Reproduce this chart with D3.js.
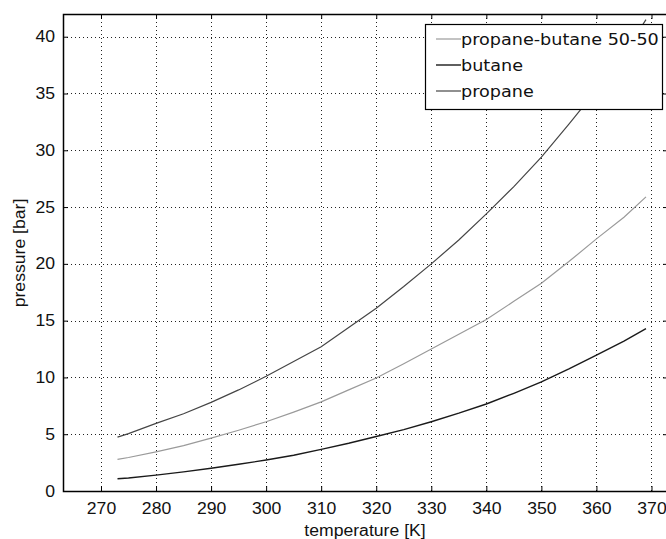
<!DOCTYPE html>
<html>
<head>
<meta charset="utf-8">
<script src="https://cdn.jsdelivr.net/npm/d3@7"></script>
<style>
  body { margin: 0; background: #fff; }
  svg { display: block; }
</style>
</head>
<body>
<div class="canvas"></div>
<script>
// Data
const temperatures = [273, 275, 280, 285, 290, 295, 300, 305, 310, 315, 320, 325, 330, 335, 340, 345, 350, 355, 360, 365, 369]
const propane = [4.75, 5.05, 5.95, 6.8, 7.8, 8.9, 10.1, 11.4, 12.7, 14.4, 16.1, 18.0, 20.0, 22.1, 24.4, 26.8, 29.4, 32.3, 35.3, 38.5, 41.5]
const mix5050 = [2.79, 2.95, 3.45, 4.0, 4.65, 5.35, 6.1, 6.95, 7.85, 8.9, 9.95, 11.2, 12.5, 13.8, 15.1, 16.7, 18.3, 20.2, 22.2, 24.1, 25.9]
const butane = [1.08, 1.15, 1.4, 1.68, 2.0, 2.35, 2.73, 3.15, 3.67, 4.2, 4.8, 5.4, 6.1, 6.85, 7.66, 8.6, 9.6, 10.75, 11.97, 13.2, 14.3]
const xTicks = [270, 280, 290, 300, 310, 320, 330, 340, 350, 360, 370]
const yTicks = [0, 5, 10, 15, 20, 25, 30, 35, 40]

const series = [
  { name: 'propane-butane 50-50', values: mix5050, color: '#9a9a9a', width: 1.2 },
  { name: 'butane', values: butane, color: '#1a1a1a', width: 1.4 },
  { name: 'propane', values: propane, color: '#454545', width: 1.2 }
]

const dims = { width: 666, height: 539 }
const plot = { left: 63, top: 14, right: 668, bottom: 491 }

const svg = d3.select('.canvas')
  .append('svg')
    .attr('width', dims.width)
    .attr('height', dims.height)

const x = d3.scaleLinear().domain([263.1, 373]).range([plot.left, plot.right])
const y = d3.scaleLinear().domain([0, 42]).range([plot.bottom, plot.top])

// stretch text a bit wider, like the original
const widen = function() {
  const w = this.getComputedTextLength()
  d3.select(this).attr('textLength', w * 1.1).attr('lengthAdjust', 'spacingAndGlyphs')
}

svg.append('defs').append('clipPath').attr('id', 'clip')
  .append('rect')
    .attr('x', plot.left).attr('y', plot.top)
    .attr('width', plot.right - plot.left).attr('height', plot.bottom - plot.top)

// Grid
const grid = svg.append('g')
  .attr('stroke', '#222')
  .attr('stroke-width', 1)
  .attr('stroke-dasharray', '1,3')

grid.selectAll('line.gx')
  .data(xTicks)
  .enter().append('line')
    .attr('class', 'gx')
    .attr('x1', d => Math.round(x(d)) + 0.5).attr('x2', d => Math.round(x(d)) + 0.5)
    .attr('y1', plot.top).attr('y2', plot.bottom)

grid.selectAll('line.gy')
  .data(yTicks.filter(d => d > 0))
  .enter().append('line')
    .attr('class', 'gy')
    .attr('y1', d => Math.round(y(d)) + 0.5).attr('y2', d => Math.round(y(d)) + 0.5)
    .attr('x1', plot.left).attr('x2', plot.right)

// Axes
const axisFont = g => {
  g.select('.domain').remove()
  g.selectAll('text')
    .attr('font-family', '"Liberation Sans", Arial, sans-serif')
    .attr('font-size', 16)
    .attr('fill', '#111')
  g.selectAll('line').attr('stroke', '#000')
}

svg.append('g')
  .attr('transform', `translate(0 ${plot.bottom})`)
  .call(d3.axisBottom(x).tickValues(xTicks).tickSize(-5).tickPadding(11.5))
  .call(axisFont)
  .selectAll('text').each(widen)

svg.append('g')
  .attr('transform', `translate(${plot.left} 0)`)
  .call(d3.axisLeft(y).tickValues(yTicks).tickSize(-5).tickPadding(8))
  .call(axisFont)
  .selectAll('text').each(widen)

svg.append('g')
  .attr('transform', `translate(0 ${plot.top})`)
  .call(d3.axisTop(x).tickValues(xTicks).tickSize(-5).tickFormat(''))
  .call(axisFont)

svg.append('g')
  .attr('transform', `translate(${plot.right} 0)`)
  .call(d3.axisRight(y).tickValues(yTicks).tickSize(-5).tickFormat(''))
  .call(axisFont)

// Lines
const line = d3.line()
  .x((d, i) => x(temperatures[i]))
  .y(d => y(d))

svg.append('g')
  .attr('clip-path', 'url(#clip)')
  .selectAll('path')
  .data(series)
  .enter().append('path')
    .attr('d', d => line(d.values))
    .attr('fill', 'none')
    .attr('stroke', d => d.color)
    .attr('stroke-width', d => d.width)

// Plot box
svg.append('rect')
  .attr('x', plot.left + 0.5).attr('y', plot.top + 0.5)
  .attr('width', plot.right - plot.left).attr('height', plot.bottom - plot.top)
  .attr('fill', 'none')
  .attr('stroke', '#000')
  .attr('stroke-width', 1.5)

// Legend
const legend = svg.append('g')
legend.append('rect')
  .attr('x', 425.5).attr('y', 24.5)
  .attr('width', 237).attr('height', 85)
  .attr('fill', '#fff')
  .attr('stroke', '#000')
  .attr('stroke-width', 1.2)

const rows = legend.selectAll('g.row')
  .data(series)
  .enter().append('g')
    .attr('class', 'row')
    .attr('transform', (d, i) => `translate(0 ${39 + i * 26})`)

rows.append('line')
  .attr('x1', 436).attr('x2', 461)
  .attr('stroke', d => d.color)
  .attr('stroke-width', d => d.width)

rows.append('text')
  .attr('x', 461)
  .attr('dy', '0.35em')
  .attr('font-family', '"DejaVu Sans", Verdana, sans-serif')
  .attr('font-size', 16)
  .attr('fill', '#111')
  .text(d => d.name)
  .each(widen)

// Axis labels
svg.append('text')
  .attr('x', 365).attr('y', 536)
  .attr('text-anchor', 'middle')
  .attr('font-family', '"Liberation Sans", Arial, sans-serif')
  .attr('font-size', 16)
  .attr('fill', '#111')
  .text('temperature [K]')
  .each(widen)

svg.append('text')
  .attr('transform', 'translate(25 253) rotate(-90)')
  .attr('text-anchor', 'middle')
  .attr('font-family', '"Liberation Sans", Arial, sans-serif')
  .attr('font-size', 16)
  .attr('fill', '#111')
  .text('pressure [bar]')
  .each(widen)
</script>
</body>
</html>
